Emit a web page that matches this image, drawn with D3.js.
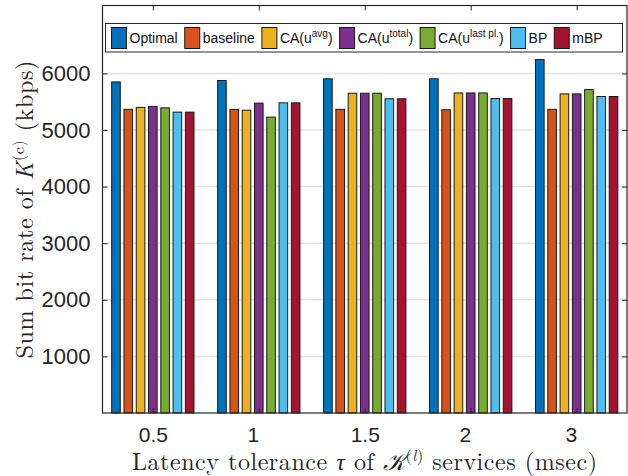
<!DOCTYPE html>
<html>
<head>
<meta charset="utf-8">
<script src="https://cdn.jsdelivr.net/npm/d3@7"></script>
<style>
  body { margin: 0; background: #fff; }
  svg { display: block; }
</style>
</head>
<body>
<div id="chart"></div>
<script>
// tolerance values on the x axis
var categories = ["0.5", "1", "1.5", "2", "3"];
var seriesNames = ["Optimal", "baseline", "CA(u^avg)", "CA(u^total)", "CA(u^last pl.)", "BP", "mBP"];
var seriesColors = ["#0072BD", "#D95319", "#EDB120", "#7E2F8E", "#77AC30", "#4DBEEE", "#A2142F"];

// sum bit rate (kbps) per series, one value per category
var optimal   = [5850, 5875, 5905, 5905, 6245];
var baseline  = [5365, 5365, 5365, 5358, 5365];
var caAvg     = [5400, 5350, 5650, 5655, 5638];
var caTotal   = [5418, 5475, 5650, 5655, 5638];
var caLast    = [5392, 5228, 5650, 5655, 5716];
var bp        = [5316, 5480, 5552, 5557, 5592];
var mbp       = [5316, 5480, 5552, 5557, 5592];

var yTicks = [1000, 2000, 3000, 4000, 5000, 6000];

var allSeries = [optimal, baseline, caAvg, caTotal, caLast, bp, mbp];

var W = 628, H = 476;
var plot = {left: 102.5, top: 5.5, right: 627, bottom: 413};
var axisColor = "#262626";

var svg = d3.select("#chart").append("svg").attr("width", W).attr("height", H);

var x = d3.scaleLinear().domain([0.525, categories.length + 0.475]).range([plot.left, plot.right]);
var y = d3.scaleLinear().domain([0, 7200]).range([plot.bottom, plot.top]);
var inner = d3.scaleBand().domain(seriesNames).range([-43, 43]).paddingInner(0.3).paddingOuter(0.15);

// grid lines
svg.append("g").selectAll("line").data(yTicks).enter().append("line")
  .attr("x1", plot.left).attr("x2", plot.right)
  .attr("y1", function(d){return y(d);}).attr("y2", function(d){return y(d);})
  .attr("stroke", "#e3e3e3").attr("stroke-width", 1.5);

// bars
var rows = [];
for(var s = 0; s < seriesNames.length; s++){
  for(var c = 0; c < categories.length; c++){
    rows.push({series: seriesNames[s], color: seriesColors[s], cat: c + 1, value: allSeries[s][c]});
  }
}
svg.append("g").selectAll("rect").data(rows).enter().append("rect")
  .attr("x", function(d){return x(d.cat) + inner(d.series);})
  .attr("width", inner.bandwidth())
  .attr("y", function(d){return y(d.value);})
  .attr("height", function(d){return y(0) - y(d.value);})
  .attr("fill", function(d){return d.color;})
  .attr("stroke", "#1a1a1a").attr("stroke-width", 1);

// axes: box with inward ticks
var tickLen = 5;
var pad = d3.max(categories, function(d){return d.length;});
var xLabels = categories.map(function(d){return d.padEnd(pad, " ");});

svg.append("g").attr("transform", "translate(0," + plot.bottom + ")")
  .call(d3.axisBottom(x).tickValues(d3.range(1, categories.length + 1))
    .tickSizeInner(-tickLen).tickSizeOuter(0).tickPadding(14)
    .tickFormat(function(d, i){return xLabels[i];}))
  .call(function(g){
    g.select(".domain").remove();
    g.selectAll("line").attr("stroke", axisColor);
    g.selectAll("text").attr("fill", axisColor).attr("font-family", "Liberation Sans, Arial, sans-serif")
      .attr("font-size", 21).style("white-space", "pre").attr("dy", "0.71em");
  });

svg.append("g").attr("transform", "translate(0," + plot.top + ")")
  .call(d3.axisTop(x).tickValues(d3.range(1, categories.length + 1))
    .tickSizeInner(-tickLen).tickSizeOuter(0).tickFormat(""))
  .call(function(g){
    g.select(".domain").remove();
    g.selectAll("line").attr("stroke", axisColor);
  });

svg.append("g").attr("transform", "translate(" + plot.left + ",0)")
  .call(d3.axisLeft(y).tickValues(yTicks).tickSizeInner(-tickLen).tickSizeOuter(0).tickPadding(12)
    .tickFormat(d3.format("d")))
  .call(function(g){
    g.select(".domain").remove();
    g.selectAll("line").attr("stroke", axisColor);
    g.selectAll("text").attr("fill", axisColor).attr("font-family", "Liberation Sans, Arial, sans-serif")
      .attr("font-size", 22);
  });

svg.append("g").attr("transform", "translate(" + plot.right + ",0)")
  .call(d3.axisRight(y).tickValues(yTicks).tickSizeInner(-tickLen).tickSizeOuter(0).tickFormat(""))
  .call(function(g){
    g.select(".domain").remove();
    g.selectAll("line").attr("stroke", axisColor);
  });

svg.append("rect")
  .attr("x", plot.left).attr("y", plot.top)
  .attr("width", plot.right - plot.left).attr("height", plot.bottom - plot.top)
  .attr("fill", "none").attr("stroke", axisColor).attr("stroke-width", 1.2);

// legend
var legend = svg.append("g");
legend.append("rect")
  .attr("x", 105.5).attr("y", 23.5).attr("width", 517).attr("height", 28.5)
  .attr("fill", "#fff").attr("stroke", axisColor).attr("stroke-width", 1);

function legendLabel(t, name){
  var m = name.match(/^(.*)\^(.*)\)$/);
  if(m){
    t.append("tspan").text(m[1]);
    t.append("tspan").attr("font-size", 10).attr("dy", -6).text(m[2]);
    t.append("tspan").attr("dy", 6).text(")");
  } else {
    t.text(name);
  }
}

var lx = 111.5;
for(var k = 0; k < seriesNames.length; k++){
  legend.append("rect")
    .attr("x", lx).attr("y", 27.5).attr("width", 15).attr("height", 21)
    .attr("fill", seriesColors[k]).attr("stroke", "#1a1a1a").attr("stroke-width", 1);
  var t = legend.append("text")
    .attr("x", lx + 18).attr("y", 43)
    .attr("font-family", "Liberation Sans, Arial, sans-serif").attr("font-size", 14)
    .attr("fill", "#111");
  legendLabel(t, seriesNames[k]);
  lx = lx + 18 + t.node().getComputedTextLength() + 7;
}

// axis titles
var serif = "Latin Modern Roman, CMU Serif, Liberation Serif, Times New Roman, serif";
var yt = svg.append("text")
  .attr("transform", "translate(33," + ((plot.top + plot.bottom) / 2) + ") rotate(-90)")
  .attr("text-anchor", "middle").attr("font-family", serif).attr("font-size", 24)
  .attr("letter-spacing", 0.6).attr("fill", "#262626");
yt.append("tspan").text("Sum bit rate of ");
yt.append("tspan").attr("font-style", "italic").text("K");
yt.append("tspan").attr("font-size", 16).attr("dy", -9).text("(c)");
yt.append("tspan").attr("dy", 9).text(" (kbps)");

var xt = svg.append("text")
  .attr("x", (plot.left + plot.right) / 2).attr("y", 469.5)
  .attr("text-anchor", "middle").attr("font-family", serif).attr("font-size", 24)
  .attr("letter-spacing", 0.55).attr("fill", "#262626");
xt.append("tspan").text("Latency tolerance ");
xt.append("tspan").attr("font-style", "italic").text("τ");
xt.append("tspan").text(" of ");
xt.append("tspan").attr("font-style", "italic").text("𝒦");
xt.append("tspan").attr("font-size", 16).attr("dy", -9).text("(");
xt.append("tspan").attr("font-size", 16).attr("font-style", "italic").text("l");
xt.append("tspan").attr("font-size", 16).text(")");
xt.append("tspan").attr("dy", 9).text(" services (msec)");
</script>
</body>
</html>
